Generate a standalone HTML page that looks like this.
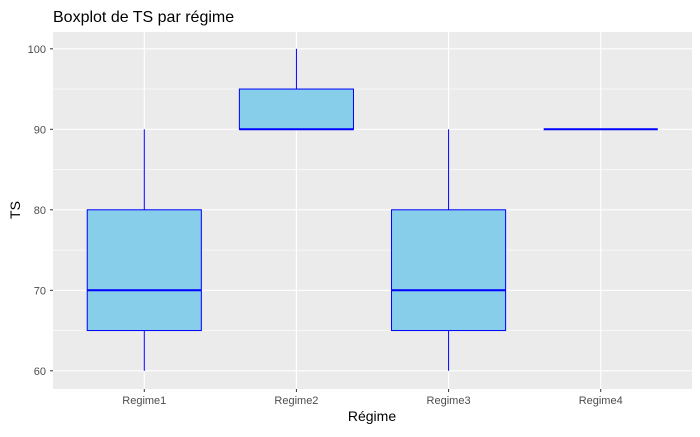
<!DOCTYPE html>
<html><head><meta charset="utf-8"><style>
body{margin:0;background:#fff;}
svg text{font-family:"Liberation Sans",sans-serif;}
</style></head><body>
<svg id="chart" width="700" height="432" xmlns="http://www.w3.org/2000/svg">
<text x="53" y="22" font-size="16" fill="#000">Boxplot de TS par régime</text>
<rect x="53" y="32" width="639" height="357" fill="#EBEBEB"/>
<g id="grid"></g>
<g id="boxes"></g>
<g id="axes"></g>
<text x="372" y="421" font-size="14" text-anchor="middle" fill="#000">Régime</text>
<text transform="translate(20,210) rotate(-90)" font-size="14" text-anchor="middle" fill="#000">TS</text>
</svg>
<script>
const categories=["Regime1","Regime2","Regime3","Regime4"];
const lowerWhisker=[60,90,60,90];
const q1=[65,90,65,90];
const median=[70,90,70,90];
const q3=[80,95,80,90];
const upperWhisker=[90,100,90,90];
const yTicks=[60,70,80,90,100];
const NS="http://www.w3.org/2000/svg";
const L=53,R=692,T=32,B=389;
const step=(R-L)/(categories.length-1+1.2);
function x(i){return L+step*(0.6+i);}
function y(v){return 129.3+(90-v)*8.05;}
function el(tag,attrs,parent){const e=document.createElementNS(NS,tag);for(const k in attrs)e.setAttribute(k,attrs[k]);parent.appendChild(e);return e;}
const grid=document.getElementById('grid'),boxes=document.getElementById('boxes'),axes=document.getElementById('axes');
for(let v=55;v<=105;v+=5){const yy=y(v);if(yy<T||yy>B)continue;const major=v%10===0;
 const g=el('line',{x1:L,x2:R,y1:yy,y2:yy,stroke:'#fff','stroke-width':major?1.1:0.55},grid);
 
 }
categories.forEach((c,i)=>{const g=el('line',{x1:x(i),x2:x(i),y1:T,y2:B,stroke:'#fff','stroke-width':1.1},grid);
 
 });
const bw=step*0.75;
categories.forEach((c,i)=>{const cx=x(i);
 const grp=el('g',{},boxes);
 
 
 el('line',{x1:cx,x2:cx,y1:y(upperWhisker[i]),y2:y(q3[i]),stroke:'#0000FF','stroke-width':1},grp);
 el('line',{x1:cx,x2:cx,y1:y(q1[i]),y2:y(lowerWhisker[i]),stroke:'#0000FF','stroke-width':1},grp);
 el('rect',{x:cx-bw/2,y:y(q3[i]),width:bw,height:Math.max(0,y(q1[i])-y(q3[i])),fill:'#87CEEB',stroke:'#0000FF','stroke-width':1},grp);
 el('line',{x1:cx-bw/2,x2:cx+bw/2,y1:y(median[i]),y2:y(median[i]),stroke:'#0000FF','stroke-width':2},grp);
 const t=el('text',{x:cx,y:B+15,'font-size':11,'text-anchor':'middle',fill:'#4D4D4D'},axes);t.textContent=c;
 
 
 el('line',{x1:cx,x2:cx,y1:B,y2:B+3,stroke:'#333','stroke-width':1},axes);
});
yTicks.forEach(v=>{const t=el('text',{x:L-7,y:y(v)+4,'font-size':11,'text-anchor':'end',fill:'#4D4D4D'},axes);t.textContent=v;
 
 
 el('line',{x1:L-3,x2:L,y1:y(v),y2:y(v),stroke:'#333','stroke-width':1},axes);});
</script>
</body></html>
